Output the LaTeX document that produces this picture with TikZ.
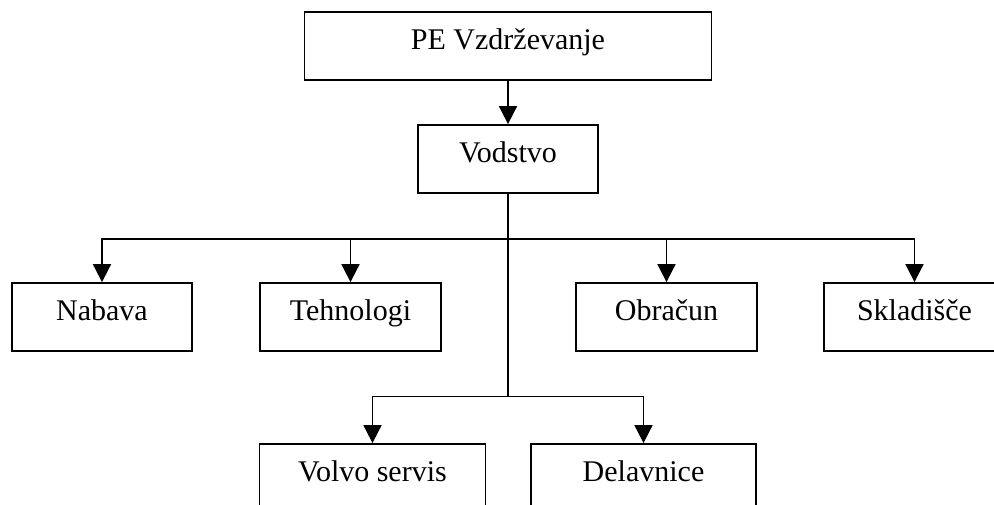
\documentclass[tikz,border=0pt]{standalone}
\usepackage{fontspec}
\setmainfont{Liberation Serif}
\usetikzlibrary{arrows.meta}
\begin{document}
\begin{tikzpicture}[x=1pt,y=-1pt,
  box/.style={draw=black, line width=1.8pt, fill=white, inner sep=0pt,
    text height=37pt, text depth=31pt, font=\fontsize{30}{35}\selectfont},
  conn/.style={draw=black, line width=1.8pt},
  arr/.style={conn, -{Triangle[length=18pt,width=18pt]}, shorten >=0pt}]
\useasboundingbox[fill=white] (0,0) rectangle (994,504);
\node[box, minimum width=407pt] (pe) at (508,46) {PE Vzdrževanje};
\node[box, minimum width=180pt] (vod) at (508,159) {Vodstvo};
\node[box, minimum width=180pt] (nab) at (102,317) {Nabava};
\node[box, minimum width=181pt] (teh) at (350.5,317) {Tehnologi};
\node[box, minimum width=181pt] (obr) at (666.5,317) {Obračun};
\node[box, minimum width=181pt] (skl) at (914.5,317) {Skladišče};
\node[box, minimum width=226pt] (vol) at (372.5,478) {Volvo servis};
\node[box, minimum width=225pt] (del) at (643.5,478) {Delavnice};
\coordinate (j1) at (508,239);
\coordinate (j2) at (508,396.5);
\draw[arr] (pe.south) -- (vod.north);
\draw[conn] (vod.south) -- (j2);
\draw[arr] (j1) -| (nab.north);
\draw[arr] (j1) -| (teh.north);
\draw[arr] (j1) -| (obr.north);
\draw[arr] (j1) -| (skl.north);
\draw[arr] (j2) -| (vol.north);
\draw[arr] (j2) -| (del.north);
\end{tikzpicture}
\end{document}
